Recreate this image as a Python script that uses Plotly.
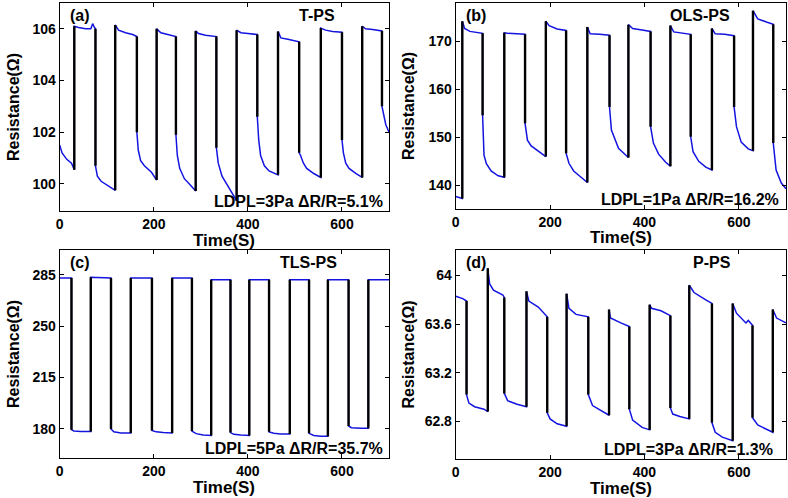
import plotly.graph_objects as go

# ---------------- data ----------------
# (a) T-PS
t_a = [0, 5, 15, 25, 31,
       31, 40, 55, 66, 70, 74, 76,
       76, 80, 88, 100, 110, 118,
       118, 125, 140, 155, 164,
       164, 167, 172, 180, 195, 206,
       206, 215, 230, 247,
       247, 250, 255, 265, 278, 289,
       289, 295, 310, 333,
       333, 337, 345, 355, 365, 376,
       376, 385, 400, 420,
       420, 423, 427, 435, 445, 464,
       464, 470, 485, 509,
       509, 512, 518, 525, 540, 555,
       555, 565, 580, 600,
       600, 603, 608, 615, 630, 643,
       643, 650, 665, 685,
       685, 688, 693, 700]
r_a = [101.5, 101.2, 100.95, 100.8, 100.55,
       106.1, 106.05, 106.0, 106.0, 106.2, 106.05, 106.0,
       100.7, 100.3, 100.1, 99.95, 99.85, 99.75,
       106.15, 105.95, 105.85, 105.78, 105.7,
       102.0, 101.3, 100.9, 100.7, 100.45, 100.15,
       106.0, 105.85, 105.78, 105.7,
       101.9, 101.1, 100.6, 100.2, 99.95, 99.72,
       105.92, 105.82, 105.75, 105.7,
       101.4, 100.8, 100.3, 100.0, 99.7, 99.35,
       105.95, 105.85, 105.82, 105.78,
       102.6, 101.7, 101.1, 100.7, 100.5, 100.35,
       105.9, 105.65, 105.6, 105.5,
       101.2, 101.1, 100.8, 100.6, 100.4, 100.25,
       106.03, 105.95, 105.9, 105.87,
       101.7, 101.2, 100.8, 100.6, 100.4, 100.25,
       106.1, 106.0, 105.97, 105.92,
       103.0, 102.7, 102.3, 102.0]

# (b) OLS-PS
t_b = [0, 10, 14,
       14, 19, 30, 45, 57,
       57, 60, 65, 75, 90, 103,
       103, 110, 130, 147,
       147, 152, 160, 175, 191,
       191, 198, 215, 234,
       234, 240, 250, 265, 279,
       279, 285, 305, 326,
       326, 330, 345, 366,
       366, 375, 395, 413,
       413, 419, 430, 445, 455,
       455, 462, 480, 498,
       498, 503, 515, 530, 543,
       543, 550, 570, 590,
       590, 595, 605, 620, 630,
       630, 640, 660, 673,
       673, 679, 690, 700]
r_b = [137.7, 137.5, 137.3,
       174.1, 172.6, 172.0, 171.8, 171.6,
       154.6, 146.3, 144.5, 143.0, 142.0, 141.7,
       171.7, 171.6, 171.5, 171.4,
       152.9, 149.4, 148.2, 147.2, 146.0,
       174.1, 173.2, 172.5, 172.2,
       146.7, 144.6, 143.0, 141.8, 140.6,
       172.9, 171.5, 171.4, 171.2,
       156.3, 151.5, 147.7, 145.8,
       173.4, 172.6, 172.3, 172.0,
       152.2, 148.8, 146.5, 144.8, 144.0,
       173.2, 171.9, 171.6, 171.4,
       150.1, 147.0, 145.0, 143.8, 143.2,
       172.6, 171.5, 171.4, 171.1,
       156.3, 152.2, 149.0, 147.6, 147.2,
       176.3, 174.6, 173.9, 173.5,
       148.8, 143.2, 140.5, 139.3]

# (c) TLS-PS
t_c = [0, 25,
       25, 30, 45, 66,
       66, 80, 109,
       109, 115, 130, 151,
       151, 170, 196,
       196, 205, 220, 239,
       239, 260, 281,
       281, 290, 305, 322,
       322, 340, 363,
       363, 370, 385, 403,
       403, 420, 445,
       445, 455, 470, 489,
       489, 510, 530,
       530, 540, 555, 570,
       570, 590, 614,
       614, 620, 640, 656,
       656, 680, 700]
r_c = [282.7, 282.7,
       179.5, 178.6, 178.3, 178.3,
       283.3, 283.2, 282.8,
       180.0, 178.0, 177.3, 177.3,
       282.8, 282.8, 282.7,
       179.0, 178.0, 177.6, 177.3,
       282.8, 282.8, 282.7,
       178.5, 176.8, 175.8, 175.5,
       281.6, 281.6, 281.5,
       177.5, 176.3, 175.8, 175.5,
       281.6, 281.5, 281.5,
       178.0, 177.0, 176.6, 176.6,
       281.6, 281.5, 281.5,
       177.0, 175.5, 175.0, 175.0,
       281.6, 281.5, 281.5,
       182.0, 180.8, 180.5, 180.5,
       281.6, 281.5, 281.5]

# (d) P-PS
t_d = [0, 15, 23,
       23, 28, 40, 60, 68,
       68, 72, 80, 100, 103,
       103, 110, 130, 150,
       150, 155, 175, 194,
       194, 200, 215, 235,
       235, 240, 255, 281,
       281, 290, 315, 325,
       325, 328, 350, 368,
       368, 375, 395, 411,
       411, 415, 435, 455,
       455, 460, 475, 495,
       495, 505, 530, 543,
       543, 550, 565, 587,
       587, 595, 615, 620, 629,
       629, 640, 660, 672,
       672, 680, 700]
r_d = [63.83, 63.81, 63.79,
       63.02, 62.95, 62.92, 62.90, 62.88,
       64.06, 63.93, 63.88, 63.84, 63.82,
       63.03, 62.97, 62.94, 62.92,
       63.87, 63.79, 63.74, 63.66,
       62.87, 62.82, 62.78, 62.76,
       63.85, 63.73, 63.68, 63.66,
       63.02, 62.93, 62.87, 62.85,
       63.72, 63.65, 63.61, 63.58,
       62.90, 62.81, 62.75, 62.73,
       63.76, 63.73, 63.71, 63.67,
       62.91, 62.86, 62.84, 62.82,
       63.92, 63.86, 63.80, 63.77,
       62.79, 62.71, 62.67, 62.64,
       63.77, 63.69, 63.61, 63.63, 63.59,
       62.83, 62.77, 62.73, 62.71,
       63.72, 63.65, 63.61]

panel_letters = ["(a)", "(b)", "(c)", "(d)"]
sample_names = ["T-PS", "OLS-PS", "TLS-PS", "P-PS"]
notes = ["LDPL=3Pa ΔR/R=5.1%", "LDPL=1Pa ΔR/R=16.2%",
         "LDPL=5Pa ΔR/R=35.7%", "LDPL=3Pa ΔR/R=1.3%"]
y_ticks = [[100, 102, 104, 106], [140, 150, 160, 170],
           [180, 215, 250, 285], [62.8, 63.2, 63.6, 64.0]]
y_ticktext = [["100", "102", "104", "106"], ["140", "150", "160", "170"],
              ["180", "215", "250", "285"], ["62.8", "63.2", "63.6", "64"]]
y_ranges = [[98.95, 107.0], [135.1, 177.9], [160.2, 301.8], [62.49, 64.21]]
x_ticks = [0, 200, 400, 600]
x_title = "Time(S)"
y_title = "Resistance(Ω)"

# ---------------- layout geometry (pixels in 788x498) ----------------
W, H = 788, 498
boxes = [  # x0, x1, ytop, ybottom
    (56, 387, 3, 211),
    (454, 786, 3, 209),
    (56, 387, 250, 458),
    (454, 786, 250, 459),
]

FONT = "Liberation Sans, Arial, sans-serif"
BLUE = "#1414e0"

def jumps(t, r):
    xs, ys = [], []
    for i in range(len(t) - 1):
        if t[i + 1] == t[i]:
            xs += [t[i], t[i + 1], None]
            ys += [r[i], r[i + 1], None]
    return xs, ys

fig = go.Figure()
series = [(t_a, r_a), (t_b, r_b), (t_c, r_c), (t_d, r_d)]
layout = dict(
    width=W, height=H, margin=dict(l=0, r=0, t=0, b=0),
    paper_bgcolor="white", plot_bgcolor="white", showlegend=False,
    annotations=[],
)

for k, ((t, r), (x0, x1, yt, yb)) in enumerate(zip(series, boxes)):
    sfx = "" if k == 0 else str(k + 1)
    xa, ya = "x" + sfx, "y" + sfx
    fig.add_trace(go.Scatter(x=t, y=r, mode="lines", xaxis=xa, yaxis=ya,
                             line=dict(color=BLUE, width=1.5)))
    jx, jy = jumps(t, r)
    fig.add_trace(go.Scatter(x=jx, y=jy, mode="lines", xaxis=xa, yaxis=ya,
                             line=dict(color="black", width=2.4)))
    axcommon = dict(showline=True, linecolor="black", linewidth=1,
                    mirror="allticks", ticks="inside", ticklen=4,
                    tickcolor="black", showgrid=False, zeroline=False,
                    tickfont=dict(family=FONT, size=14, color="black",
                                  weight="bold"))
    layout["xaxis" + sfx] = dict(
        axcommon, domain=[x0 / W, x1 / W], range=[0, 700],
        tickvals=x_ticks, anchor=ya)
    layout["yaxis" + sfx] = dict(
        axcommon, domain=[1 - yb / H, 1 - yt / H], range=y_ranges[k],
        tickvals=y_ticks[k], ticktext=y_ticktext[k], anchor=xa)
    xd, yd = xa + " domain", ya + " domain"
    tf = dict(family=FONT, size=16, color="black", weight="bold")
    layout["annotations"] += [
        dict(text=panel_letters[k], xref=xd, yref=yd, x=0.025, y=0.94,
             xanchor="left", yanchor="middle", showarrow=False, font=tf),
        dict(text=sample_names[k], xref=xd, yref=yd,
             x=[0.782, 0.741, 0.755, 0.777][k], y=0.94,
             xanchor="center", yanchor="middle", showarrow=False, font=tf),
        dict(text=notes[k], xref=xd, yref=yd,
             x=[0.988, 0.985, 0.988, 0.967][k], y=0.045,
             xanchor="right", yanchor="middle", showarrow=False, font=tf),
        dict(text=x_title, xref="paper", yref="paper",
             x=((x0 + x1) / 2) / W, y=1 - (yb + 29) / H,
             xanchor="center", yanchor="middle", showarrow=False,
             font=dict(family=FONT, size=17, color="black", weight="bold")),
        dict(text=y_title, xref="paper", yref="paper", textangle=-90,
             x=(x0 - 47) / W, y=1 - ((yt + yb) / 2) / H,
             xanchor="center", yanchor="middle", showarrow=False,
             font=dict(family=FONT, size=16, color="black", weight="bold")),
    ]

fig.update_layout(**layout)
fig.write_html(
    "out.html",
    config={"displayModeBar": False},
    post_script="document.body.style.margin='0';"
                "document.body.style.padding='0';"
                "document.body.style.overflow='hidden';",
)
